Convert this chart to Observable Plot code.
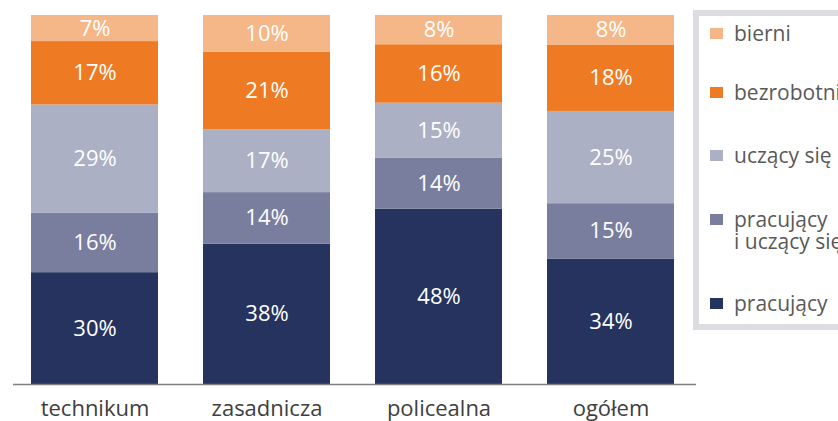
<!DOCTYPE html>
<html>
<head>
<meta charset="utf-8">
<script src="https://cdn.jsdelivr.net/npm/d3@7"></script>
<script src="https://cdn.jsdelivr.net/npm/@observablehq/plot@0.6"></script>
<style>
  html, body { margin: 0; padding: 0; background: #fff; overflow: hidden; }
  #wrap { position: relative; width: 838px; height: 421px; font-family: "Open Sans", sans-serif; }
  #legend { position: absolute; left: 693px; top: 10px; width: 160px; height: 308px; border: 6px solid #dcdde0; background: #fff; }
  .item { position: absolute; left: 11px; display: flex; align-items: flex-start; color: #595959; font-size: 21px; line-height: 22px; transform: translateY(-50%); white-space: nowrap; }
  .sw { width: 13px; height: 11px; margin-right: 11px; margin-top: 6px; flex: none; }
</style>
</head>
<body>
<div id="wrap"></div>
<script>
const categories = ["technikum", "zasadnicza", "policealna", "ogółem"];
const series = ["pracujący", "pracujący i uczący się", "uczący się", "bezrobotni", "bierni"];
const legendLabels = ["pracujący", "pracujący<br>i uczący się", "uczący się", "bezrobotni", "bierni"];
const colors = ["#25335e", "#7a7e9e", "#abb0c5", "#ee7b23", "#f5b787"];
const pracujacy = [30, 38, 48, 34];
const pracujacyUczacy = [16, 14, 14, 15];
const uczacy = [29, 17, 15, 25];
const bezrobotni = [17, 21, 16, 18];
const bierni = [7, 10, 8, 8];

const valuesBySeries = [pracujacy, pracujacyUczacy, uczacy, bezrobotni, bierni];
const data = [];
series.forEach((s, i) => categories.forEach((c, j) => data.push({cat: c, series: s, value: valuesBySeries[i][j]})));

const plot = Plot.plot({
  width: 838,
  height: 421,
  marginLeft: 13,
  marginRight: 146,
  marginTop: 15,
  marginBottom: 37,
  style: {fontFamily: "'Open Sans', sans-serif", background: "transparent"},
  x: {domain: categories, paddingInner: 0.2616, paddingOuter: 0.0955, label: null},
  y: {axis: null, domain: [0, 1]},
  color: {domain: series, range: colors},
  marks: [
    Plot.barY(data, Plot.stackY({offset: "normalize", x: "cat", y: "value", z: "series", fill: "series"})),
    Plot.text(data, Plot.stackY({offset: "normalize", x: "cat", y: "value", z: "series", text: d => d.value + "%", fill: "#fff", fontSize: 22})),
    Plot.ruleY([0], {stroke: "#7f7f7f", strokeWidth: 1.5, insetRight: -4}),
    Plot.axisX({tickSize: 0, tickPadding: 16, fontSize: 22, color: "#404040", label: null})
  ]
});
plot.style.position = "absolute";
plot.style.left = "0";
plot.style.top = "0";
const wrap = document.getElementById("wrap");
wrap.appendChild(plot);

const legend = document.createElement("div");
legend.id = "legend";
// vertical centres inside the legend's inner box
const ys = [287, 214, 139, 76, 17];
[...series.keys()].forEach(i => {
  const it = document.createElement("div");
  it.className = "item";
  it.style.top = ys[i] + "px";
  it.innerHTML = `<div class="sw" style="background:${colors[i]}"></div><div>${legendLabels[i]}</div>`;
  legend.appendChild(it);
});
wrap.appendChild(legend);
</script>
</body>
</html>
